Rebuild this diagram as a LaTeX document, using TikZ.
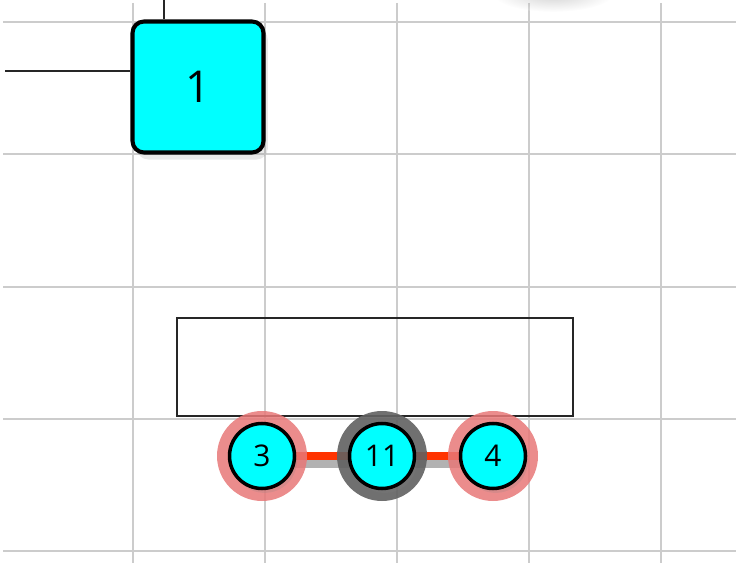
\documentclass[tikz,border=0pt]{standalone}
\usepackage{fontspec}
\setmainfont{Open Sans}
\usetikzlibrary{shapes,calc,positioning,shadows}
\definecolor{linkred}{RGB}{255,51,0}
\definecolor{halored}{RGB}{232,120,120}
\definecolor{boxcyan}{RGB}{0,255,255}

\begin{document}
\begin{tikzpicture}[x=0.02cm, y=-0.02cm,
  gridline/.style={draw=black!20, line width=1.3pt},
  mainbox/.style={rectangle, draw=black, fill=boxcyan, line width=2.3pt, rounded corners=6.5pt, minimum size=2.62cm, font=\fontsize{25}{28}\selectfont, drop shadow={shadow xshift=2.5pt, shadow yshift=-4pt, opacity=0.18}},
  slotbox/.style={rectangle, draw=black!85, line width=0.9pt, minimum width=7.92cm, minimum height=1.96cm},
  nodecircle/.style={circle, draw=black, fill=boxcyan, line width=2pt, minimum size=1.3cm, inner sep=0pt, font=\fontsize{17}{19}\selectfont, drop shadow={shadow xshift=1.5pt, shadow yshift=-2.5pt, opacity=0.18}},
  redhalo/.style={fill=halored, opacity=0.85},
  grayhalo/.style={fill=black!62, opacity=0.9},
  wire/.style={draw=black!85, line width=1.1pt},
  redlink/.style={draw=linkred, line width=4.6pt},
  linkshadow/.style={draw=black!30, line width=4.6pt}
]
\useasboundingbox (0,0) rectangle (736,563);
\clip (0,0) rectangle (736,563);

% Grid
\foreach \gx in {133,265,397,529,661}
  \draw[gridline] (\gx,3) -- (\gx,563);
\foreach \gy in {22,154,287,419,551}
  \draw[gridline] (3,\gy) -- (736,\gy);

% Shadow of a shape above the view
\shade[inner color=black!70, outer color=white, opacity=0.25] (553,-6) ellipse (60 and 18);

% Block 1 and its wires
\node[mainbox] (block1) at (198,87) {1};
\coordinate (wireleft) at (5,71);
\coordinate (wiretop) at (164,0);
\draw[wire] (wireleft) -- (block1.west |- wireleft);
\draw[wire] (wiretop) -- (wiretop |- block1.north);

% Frame
\node[slotbox] (slot) at (375,367) {};

% Halo positions
\coordinate (c3) at (262,456);
\coordinate (c11) at (382,456);
\coordinate (c4) at (493,456);

% Links
\draw[linkshadow] ($(c3)+(6,8)$) -- ($(c11)+(6,8)$);
\draw[linkshadow] ($(c11)+(6,8)$) -- ($(c4)+(6,8)$);
\draw[redlink] (c3) -- (c11);
\draw[redlink] (c11) -- (c4);

% Halos
\fill[redhalo] (c3) circle (45);
\fill[grayhalo] (c11) circle (45);
\fill[redhalo] (c4) circle (45);

% Circle nodes
\node[nodecircle] (n3) at (c3) {3};
\node[nodecircle] (n11) at (c11) {11};
\node[nodecircle] (n4) at (c4) {4};

\end{tikzpicture}
\end{document}
